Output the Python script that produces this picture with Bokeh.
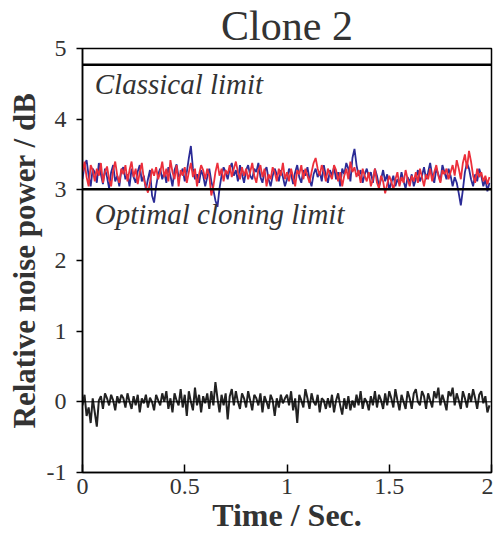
from bokeh.plotting import figure
from bokeh.models import Span, Label, FixedTicker
from bokeh.embed import file_html
from bokeh.resources import INLINE

# ---- data ----
dt = 0.01
blue_trace = [
    3.15,3.35,3.42,3.2,3.05,3.3,3.25,3.1,3.38,3.22,3.08,3.3,3.18,3.02,3.25,3.35,3.12,3.2,3.05,3.28,
    3.32,3.15,3.22,3.05,3.3,3.18,3.1,3.26,3.35,3.12,3.2,3.0,3.15,3.28,2.92,2.82,3.05,3.22,3.3,3.15,
    3.25,3.1,3.32,3.2,3.05,3.28,3.36,3.18,3.22,3.3,3.12,3.25,3.45,3.62,3.3,3.15,3.22,3.1,3.28,3.2,
    3.05,3.18,3.3,3.12,3.0,2.85,2.76,3.02,3.2,3.32,3.25,3.15,3.3,3.38,3.2,3.28,3.12,3.35,3.22,3.1,
    3.28,3.35,3.2,3.15,3.3,3.25,3.38,3.18,3.1,3.26,3.32,3.15,3.05,3.2,3.3,3.22,3.12,3.28,3.18,3.05,
    3.15,3.3,3.22,3.08,3.25,3.35,3.18,3.1,3.28,3.2,3.32,3.15,3.05,3.22,3.3,3.18,3.26,3.12,3.35,3.2,
    3.1,3.28,3.2,3.32,3.15,3.25,3.05,3.3,3.22,3.38,3.3,3.12,3.45,3.58,3.35,3.2,3.28,3.1,3.22,3.3,
    3.18,3.25,3.1,3.3,3.2,3.05,3.15,3.28,3.12,3.22,3.0,3.1,3.2,3.05,3.15,3.08,3.25,3.12,3.02,3.18,
    3.1,3.22,3.05,3.15,3.28,3.12,3.2,3.32,3.15,3.25,3.38,3.2,3.1,3.3,3.22,3.12,3.35,3.25,3.15,3.3,
    3.2,3.05,3.18,3.1,2.95,2.78,3.0,3.25,3.38,3.3,3.15,3.05,3.22,3.12,3.3,3.2,3.05,3.15,2.98,3.1,
]
red_trace = [
    3.25,3.4,3.18,3.05,3.35,3.28,3.12,3.3,3.2,3.38,3.1,3.25,3.33,3.15,3.05,3.28,3.4,3.2,3.1,3.3,
    3.22,3.35,3.12,3.28,3.4,3.18,3.3,3.08,3.25,3.38,3.15,3.05,2.96,3.1,3.3,3.2,3.32,3.15,3.25,3.4,
    3.18,3.3,3.12,3.42,3.25,3.15,3.35,3.05,3.28,3.2,3.32,3.1,3.25,3.38,3.18,3.3,3.05,3.22,3.35,3.28,
    3.15,3.3,3.2,2.92,3.05,3.25,3.38,3.2,3.3,3.12,3.28,3.22,3.35,3.18,3.3,3.4,3.25,3.15,3.32,3.2,
    3.3,3.15,3.25,3.38,3.2,3.1,3.28,3.35,3.18,3.3,3.05,3.22,3.15,3.32,3.25,3.12,3.3,3.2,3.38,3.15,
    3.25,3.12,3.3,3.18,3.05,3.28,3.22,3.35,3.15,3.3,3.2,3.1,3.25,3.38,3.45,3.3,3.2,3.35,3.25,3.12,
    3.3,3.22,3.15,3.35,3.28,3.12,3.25,3.05,3.2,3.3,3.15,3.4,3.25,3.32,3.18,3.28,3.1,3.3,3.2,3.12,
    3.25,3.05,3.15,3.3,3.1,3.02,3.2,3.12,2.95,3.08,3.2,3.12,3.0,3.15,3.25,3.05,3.18,3.1,3.28,3.15,
    3.05,3.2,3.12,3.25,3.1,3.3,3.18,3.05,3.22,3.15,3.3,3.12,3.25,3.35,3.2,3.1,3.28,3.22,3.3,3.15,
    3.25,3.35,3.2,3.42,3.3,3.15,3.38,3.5,3.3,3.55,3.4,3.2,3.1,3.3,3.18,3.25,3.12,3.2,3.08,3.18,
]
black_trace = [
    -0.05,0.1,-0.2,-0.08,-0.3,0.05,-0.15,-0.35,0.02,0.08,-0.1,0.12,0.05,-0.05,0.1,0.02,-0.12,0.08,-0.02,0.1,
    0.05,-0.08,0.12,0.0,-0.1,0.08,-0.05,0.1,-0.15,0.05,-0.02,0.1,-0.08,0.06,0.0,-0.12,0.1,0.02,-0.05,0.12,
    0.0,0.15,-0.1,0.05,-0.15,0.12,0.02,-0.05,0.18,-0.08,0.1,-0.2,0.15,0.0,-0.12,0.2,-0.05,0.1,-0.15,0.08,
    -0.02,0.12,-0.1,0.15,-0.05,0.28,0.05,-0.15,0.1,-0.05,0.12,-0.25,0.08,0.18,-0.05,0.15,0.0,-0.1,0.12,0.05,
    -0.08,0.15,0.02,-0.12,0.1,0.05,-0.05,0.12,-0.15,0.08,0.0,-0.1,0.1,0.02,-0.2,0.05,-0.08,0.1,-0.02,0.05,
    0.1,-0.05,0.15,-0.12,0.05,-0.3,0.1,0.02,-0.08,0.18,0.05,-0.1,0.12,0.0,-0.05,0.1,-0.15,0.05,0.02,-0.1,
    0.05,-0.08,0.1,-0.15,0.02,0.12,-0.05,-0.18,0.05,-0.1,0.08,-0.12,0.02,-0.08,0.1,-0.05,0.15,-0.1,0.05,0.0,
    -0.12,0.08,-0.05,0.15,-0.08,0.1,0.02,-0.1,0.12,-0.05,0.15,0.05,-0.08,0.18,0.02,-0.12,0.1,0.0,-0.1,0.15,
    0.05,-0.1,0.12,0.18,0.0,-0.05,0.15,0.08,-0.1,0.12,0.02,-0.08,0.15,0.05,0.2,-0.05,0.1,0.0,-0.12,0.15,
    0.08,0.2,-0.05,0.12,0.02,-0.1,0.15,0.05,-0.08,0.12,0.0,0.18,0.05,-0.1,0.1,0.15,-0.02,0.08,-0.15,-0.05,
]
time = [i * dt for i in range(len(blue_trace))]

classical_limit = 4.77
optimal_limit = 3.01
shot_noise = 0.0

x_ticks = [0, 0.5, 1, 1.5, 2]
x_tick_labels = ["0", "0.5", "1", "1.5", "2"]
y_ticks = [-1, 0, 1, 2, 3, 4, 5]
y_tick_labels = ["-1", "0", "1", "2", "3", "4", "5"]

SERIF = "Liberation Serif"
TEXT = "#333333"

p = figure(width=493, height=540, x_range=(0, 2), y_range=(-1, 5),
           output_backend="svg", toolbar_location=None,
           min_border_left=82, min_border_right=2, min_border_top=48, min_border_bottom=68)

p.title.text = "Clone 2"
p.title.align = "center"
p.title.text_font = SERIF
p.title.text_font_size = "42px"
p.title.text_font_style = "normal"
p.title.text_color = TEXT
p.title.standoff = 0

p.xgrid.visible = False
p.ygrid.visible = False
p.outline_line_color = "black"
p.outline_line_width = 1.5
p.background_fill_color = "white"
p.border_fill_color = "white"

for ax in (p.xaxis[0], p.yaxis[0]):
    ax.axis_line_color = "black"
    ax.axis_line_width = 1.5
    ax.major_tick_line_color = "black"
    ax.major_tick_line_width = 1.5
    ax.minor_tick_line_color = None
    ax.major_label_text_font = SERIF
    ax.major_label_text_font_size = "24px"
    ax.major_label_text_color = TEXT
    ax.axis_label_text_font = SERIF
    ax.axis_label_text_font_style = "bold"
    ax.axis_label_text_color = TEXT

p.xaxis.ticker = FixedTicker(ticks=x_ticks)
p.xaxis.major_label_overrides = {t: l for t, l in zip(x_ticks, x_tick_labels)}
p.xaxis.major_tick_in = 8
p.xaxis.major_tick_out = 0
p.xaxis.major_label_standoff = 6
p.xaxis.axis_label = "Time / Sec."
p.xaxis.axis_label_text_font_size = "32px"
p.xaxis.axis_label_standoff = 0

p.yaxis.ticker = FixedTicker(ticks=y_ticks)
p.yaxis.major_label_overrides = {t: l for t, l in zip(y_ticks, y_tick_labels)}
p.yaxis.major_tick_in = 0
p.yaxis.major_tick_out = 6
p.yaxis.major_label_standoff = 10
p.yaxis.axis_label = "Relative noise power / dB"
p.yaxis.axis_label_text_font_size = "31px"
p.yaxis.axis_label_standoff = 2

p.add_layout(Span(location=classical_limit, dimension="width", line_color="black", line_width=2.5))
p.add_layout(Span(location=optimal_limit, dimension="width", line_color="black", line_width=2.5))
p.add_layout(Span(location=shot_noise, dimension="width", line_color="black", line_width=1))

p.line(time, black_trace, line_color="#222222", line_width=2)
p.line(time, blue_trace, line_color="#2b2b96", line_width=1.8)
p.line(time, red_trace, line_color="#ec2f3b", line_width=1.8)

p.add_layout(Label(x=0.06, y=4.5, text="Classical limit", text_font=SERIF,
                   text_font_style="italic", text_font_size="29px",
                   text_color=TEXT, text_baseline="middle"))
p.add_layout(Label(x=0.06, y=2.66, text="Optimal cloning limit", text_font=SERIF,
                   text_font_style="italic", text_font_size="29px",
                   text_color=TEXT, text_baseline="middle"))

open("out.html", "w").write(file_html(p, INLINE))
